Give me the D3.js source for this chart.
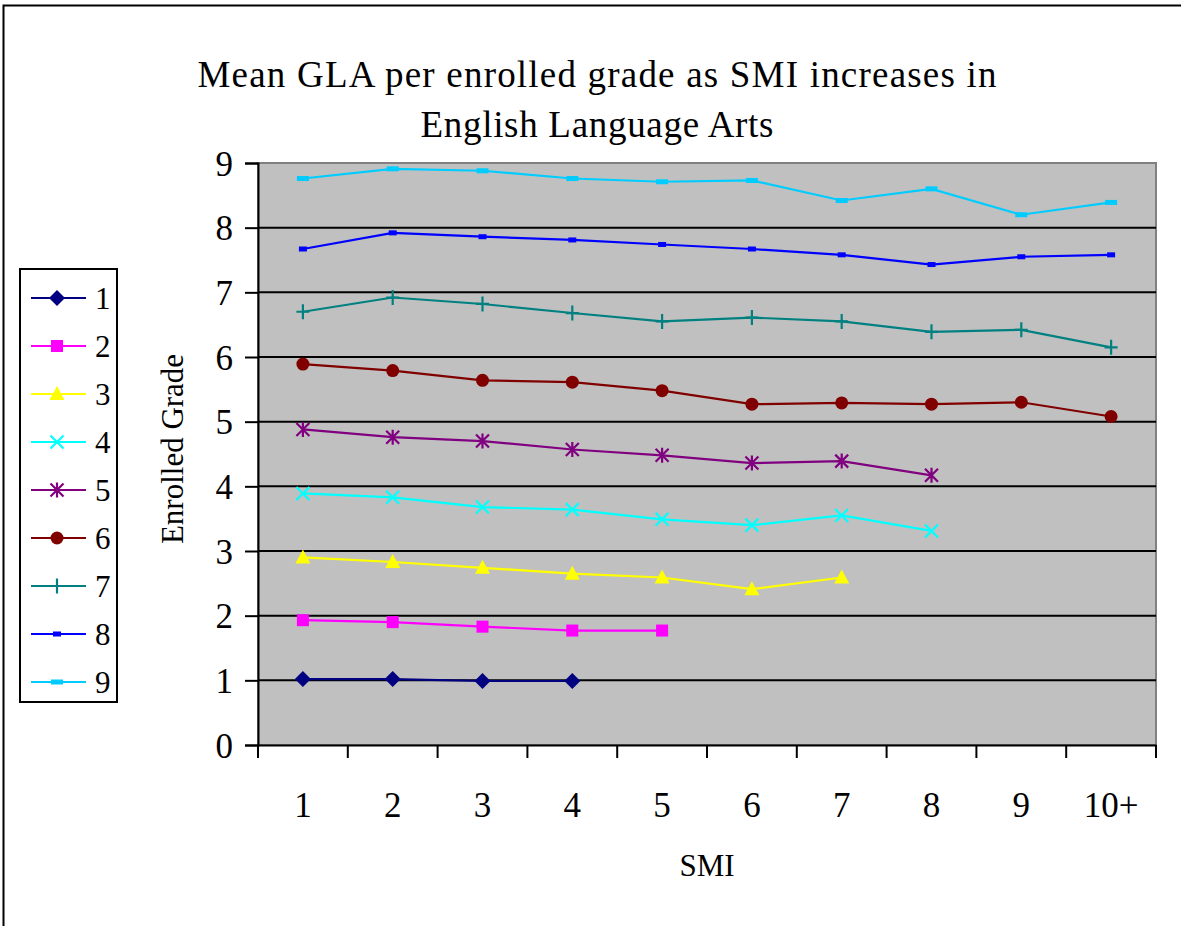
<!DOCTYPE html>
<html>
<head>
<meta charset="utf-8">
<script src="https://cdn.jsdelivr.net/npm/d3@7"></script>
<style>
  html, body { margin: 0; padding: 0; background: #fff; }
  svg, svg text { font-family: "Liberation Serif", "Tinos", "Times New Roman", "DejaVu Serif", serif !important; }
</style>
</head>
<body>
<svg id="chart" width="1181" height="926" font-family="Liberation Serif"></svg>
<script>
const categories = ["1","2","3","4","5","6","7","8","9","10+"];
const seriesNames = ["1","2","3","4","5","6","7","8","9"];
const g1 = [1.02, 1.02, 0.99, 0.99, null, null, null, null, null, null];
const g2 = [1.93, 1.90, 1.83, 1.77, 1.77, null, null, null, null, null];
const g3 = [2.90, 2.83, 2.74, 2.65, 2.59, 2.41, 2.59, null, null, null];
const g4 = [3.89, 3.83, 3.68, 3.64, 3.49, 3.40, 3.55, 3.31, null, null];
const g5 = [4.88, 4.76, 4.70, 4.57, 4.48, 4.36, 4.39, 4.17, null, null];
const g6 = [5.89, 5.79, 5.64, 5.61, 5.48, 5.27, 5.29, 5.27, 5.30, 5.08];
const g7 = [6.70, 6.92, 6.82, 6.68, 6.55, 6.61, 6.55, 6.39, 6.42, 6.15];
const g8 = [7.67, 7.92, 7.86, 7.81, 7.74, 7.67, 7.58, 7.43, 7.55, 7.58];
const g9 = [8.76, 8.91, 8.88, 8.76, 8.71, 8.73, 8.42, 8.60, 8.20, 8.39];
const yTicks = [0,1,2,3,4,5,6,7,8,9];
const seriesValues = [g1,g2,g3,g4,g5,g6,g7,g8,g9];
const colors = ["#000080","#FF00FF","#FFFF00","#00FFFF","#800080","#800000","#008080","#0000FF","#00CCFF"];
const markers = ["diamond","square","triangle","x","asterisk","circle","plus","dashSmall","dashBig"];

const FONT = '"Liberation Serif", "Tinos", "Times New Roman", "DejaVu Serif", serif';
const svg = d3.select("#chart");
const L = 258, R = 1156, T = 163, B = 745;

// outer frame
svg.append("rect").attr("x",3.5).attr("y",5.5).attr("width",1200).attr("height",1000)
  .attr("fill","none").attr("stroke","#000").attr("stroke-width",2);

const x = d3.scaleBand().domain(categories).range([L, R]).padding(0);
const y = d3.scaleLinear().domain([0, 9]).range([B, T]);

// plot background
svg.append("rect").attr("x",L).attr("y",T).attr("width",R-L).attr("height",B-T)
  .attr("fill","#C0C0C0").attr("stroke","#808080").attr("stroke-width",2);

// gridlines
svg.append("g").selectAll("line").data(yTicks.filter(d => d>0 && d<9)).join("line")
  .attr("x1",L).attr("x2",R).attr("y1",d=>y(d)).attr("y2",d=>y(d))
  .attr("stroke","#000").attr("stroke-width",2);

// y axis
const yAxis = svg.append("g").attr("transform",`translate(${L},0)`)
  .call(d3.axisLeft(y).tickValues(yTicks).tickSize(13).tickPadding(12).tickFormat(d3.format("d")));
yAxis.attr("font-family", null);
yAxis.select(".domain").attr("stroke","#000").attr("stroke-width",2);
yAxis.selectAll(".tick line").attr("stroke","#000").attr("stroke-width",2);
yAxis.selectAll("text").attr("font-size",35).style("font-family",FONT).attr("fill","#000").attr("dy","0.35em");

// x axis
const xAxis = svg.append("g").attr("transform",`translate(0,${B})`)
  .call(d3.axisBottom(x).tickSize(0).tickPadding(0));
xAxis.attr("font-family", null);
xAxis.select(".domain").attr("stroke","#000").attr("stroke-width",2);
xAxis.selectAll("text").attr("font-size",35).style("font-family",FONT).attr("fill","#000")
  .attr("y",72).attr("dy",0);
// boundary ticks
const bounds = categories.map(c => x(c)).concat([R]);
svg.append("g").selectAll("line").data(bounds).join("line")
  .attr("x1",d=>d).attr("x2",d=>d).attr("y1",B).attr("y2",B+13)
  .attr("stroke","#000").attr("stroke-width",2);

// titles
svg.append("text").attr("x",597).attr("y",87).attr("text-anchor","middle").attr("font-size",37)
  .style("font-family",FONT).attr("textLength",799).attr("lengthAdjust","spacing")
  .text("Mean GLA per enrolled grade as SMI increases in");
svg.append("text").attr("x",597).attr("y",137).attr("text-anchor","middle").attr("font-size",37)
  .style("font-family",FONT).attr("textLength",353).attr("lengthAdjust","spacing")
  .text("English Language Arts");
svg.append("text").attr("x",707).attr("y",876).attr("text-anchor","middle").attr("font-size",31)
  .style("font-family",FONT).text("SMI");
svg.append("text").attr("transform",`translate(183,449) rotate(-90)`).attr("text-anchor","middle").attr("font-size",31)
  .style("font-family",FONT).text("Enrolled Grade");

function drawMarker(g, type, color) {
  switch (type) {
    case "diamond":
      g.append("path").attr("d","M0,-8L8,0L0,8L-8,0Z").attr("fill",color); break;
    case "square":
      g.append("rect").attr("x",-6).attr("y",-6).attr("width",12).attr("height",12).attr("fill",color); break;
    case "triangle":
      g.append("path").attr("d","M0,-8L7.5,6L-7.5,6Z").attr("fill",color); break;
    case "x":
      g.append("path").attr("d","M-6.5,-6.5L6.5,6.5M-6.5,6.5L6.5,-6.5").attr("stroke",color).attr("stroke-width",2.2).attr("fill","none"); break;
    case "asterisk":
      g.append("path").attr("d","M-6.5,-6.5L6.5,6.5M-6.5,6.5L6.5,-6.5M0,-7.5L0,7.5").attr("stroke",color).attr("stroke-width",2.2).attr("fill","none"); break;
    case "circle":
      g.append("circle").attr("r",6.5).attr("fill",color); break;
    case "plus":
      g.append("path").attr("d","M-6.5,0L6.5,0M0,-7.5L0,7.5").attr("stroke",color).attr("stroke-width",2.2).attr("fill","none"); break;
    case "dashSmall":
      g.append("rect").attr("x",-4).attr("y",-2.5).attr("width",8).attr("height",5).attr("fill",color); break;
    case "dashBig":
      g.append("rect").attr("x",-6).attr("y",-2.5).attr("width",12).attr("height",5).attr("fill",color); break;
  }
}

const line = d3.line().defined(d => d.v != null)
  .x(d => x(d.c) + x.bandwidth()/2).y(d => y(d.v));

seriesValues.forEach((vals, i) => {
  const pts = vals.map((v, j) => ({c: categories[j], v}));
  const sg = svg.append("g");
  sg.append("path").datum(pts).attr("d", line).attr("fill","none")
    .attr("stroke", colors[i]).attr("stroke-width", 2.2);
  pts.filter(p => p.v != null).forEach(p => {
    const mg = sg.append("g").attr("transform",`translate(${x(p.c)+x.bandwidth()/2},${y(p.v)})`);
    drawMarker(mg, markers[i], colors[i]);
  });
});

// legend
const lg = svg.append("g");
lg.append("rect").attr("x",20).attr("y",269).attr("width",97).attr("height",433)
  .attr("fill","#fff").attr("stroke","#000").attr("stroke-width",2);
seriesNames.forEach((n, i) => {
  const yy = 298 + i*48;
  lg.append("line").attr("x1",31).attr("x2",86).attr("y1",yy).attr("y2",yy)
    .attr("stroke",colors[i]).attr("stroke-width",2.2);
  const mg = lg.append("g").attr("transform",`translate(57,${yy})`);
  drawMarker(mg, markers[i], colors[i]);
  lg.append("text").attr("x",95).attr("y",yy).attr("dy","0.35em").attr("font-size",31)
    .style("font-family",FONT).text(n);
});
</script>
</body>
</html>
